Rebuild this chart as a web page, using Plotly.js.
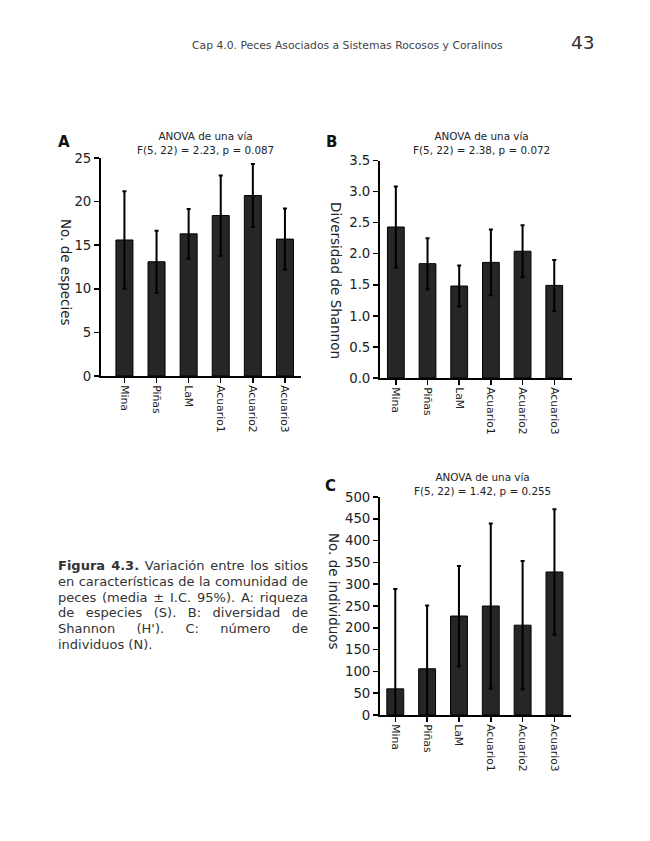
<!DOCTYPE html>
<html>
<head>
<meta charset="utf-8">
<script src="https://cdn.plot.ly/plotly-3.0.1.min.js"></script>
<style>
  html, body { margin: 0; padding: 0; background: #fff; }
  #page { position: relative; width: 650px; height: 841px; }
  #chart { position: absolute; left: 0; top: 0; width: 650px; height: 841px; }
  #caption {
    position: absolute; left: 58px; top: 558px; width: 250px;
    font-family: "DejaVu Sans", Verdana, sans-serif; font-size: 13px;
    color: #333; line-height: 15.8px;
  }
  #caption div { white-space: nowrap; text-align: justify; text-align-last: justify; }
  #caption div.last { text-align: left; text-align-last: left; }
</style>
</head>
<body>
<div id="page">
  <div id="chart"></div>
  <div id="caption">
    <div><b>Figura 4.3.</b> Variación entre los sitios</div>
    <div>en características de la comunidad de</div>
    <div>peces (media ± I.C. 95%). A: riqueza</div>
    <div>de especies (S). B: diversidad de</div>
    <div>Shannon (H'). C: número de</div>
    <div class="last">individuos (N).</div>
  </div>
</div>
<script>
// Sites sampled
const sites = ['Mina', 'Piñas', 'LaM', 'Acuario1', 'Acuario2', 'Acuario3'];

// A: species richness (mean and 95% CI half-width)
const riqueza   = [15.6, 13.1, 16.3, 18.4, 20.7, 15.7];
const riquezaIC = [5.6, 3.55, 2.85, 4.6, 3.6, 3.5];

// B: Shannon diversity
const shannon   = [2.43, 1.84, 1.48, 1.86, 2.04, 1.49];
const shannonIC = [0.65, 0.41, 0.33, 0.53, 0.42, 0.41];

// C: number of individuals
const individuos   = [60, 106, 227, 250, 206, 328];
const individuosIC = [229, 145, 115, 189, 147, 144];

// ANOVA results shown above each panel
const anova = [
  'F(5, 22) = 2.23, p = 0.087',
  'F(5, 22) = 2.38, p = 0.072',
  'F(5, 22) = 1.42, p = 0.255'
];
const yTitles = ['No. de especies', 'Diversidad de Shannon', 'No. de individuos'];

const W = 650, H = 841;
const fx = x => x / W;
const fy = y => 1 - y / H;
const FONT = '"DejaVu Sans", Verdana, sans-serif';

function barTrace(y, ic, n) {
  const s = n === 1 ? '' : String(n);
  return {
    type: 'bar', x: sites, y: y, width: 0.53,
    xaxis: 'x' + s, yaxis: 'y' + s,
    marker: { color: '#262626', line: { color: '#000', width: 1 } },
    error_y: { type: 'data', array: ic, visible: true, color: '#000', thickness: 2, width: 2 },
    hoverinfo: 'skip', showlegend: false
  };
}

function xAxis(x0, x1, r, anchor) {
  return {
    domain: [fx(x0), fx(x1)], anchor: anchor, range: r,
    showline: true, linecolor: '#000', linewidth: 2,
    ticks: 'outside', ticklen: 5, tickwidth: 1.5, tickcolor: '#000',
    tickangle: 90, tickfont: { family: FONT, size: 10.8, color: '#222' },
    showgrid: false, zeroline: false, fixedrange: true
  };
}

function yAxis(y0, y1, r, dtick, fmt, anchor) {
  return {
    domain: [fy(y1), fy(y0)], anchor: anchor, range: r,
    showline: true, linecolor: '#000', linewidth: 2,
    ticks: 'outside', ticklen: 5, tickwidth: 1.5, tickcolor: '#000',
    dtick: dtick, tick0: 0, tickformat: fmt,
    tickfont: { family: FONT, size: 13.3, color: '#222' },
    showgrid: false, zeroline: false, fixedrange: true
  };
}

const data = [
  barTrace(riqueza, riquezaIC, 1),
  barTrace(shannon, shannonIC, 2),
  barTrace(individuos, individuosIC, 3)
];

function txt(x, y, text, size, opts) {
  return Object.assign({
    xref: 'paper', yref: 'paper', x: fx(x), y: fy(y), text: text,
    showarrow: false, xanchor: 'center', yanchor: 'middle',
    font: { family: FONT, size: size, color: '#222' }
  }, opts || {});
}

// two-line ANOVA header above a panel
const anovaHead = (x, y, stat) => txt(x, y, 'ANOVA de una vía<br>' + stat, 10.4);

const annotations = [
  // running header
  txt(347.5, 45, 'Cap 4.0. Peces Asociados a Sistemas Rocosos y Coralinos', 10.8, { font: { family: FONT, size: 10.8, color: '#444' } }),
  txt(583, 43, '43', 18.5, { font: { family: FONT, size: 18.5, color: '#333' } }),
  // panel letters
  txt(64, 142, '<b>A</b>', 15, { font: { family: FONT, size: 15, color: '#111' } }),
  txt(331, 142, '<b>B</b>', 15, { font: { family: FONT, size: 15, color: '#111' } }),
  txt(330, 486, '<b>C</b>', 15, { font: { family: FONT, size: 15, color: '#111' } }),
  // ANOVA headers
  anovaHead(205.5, 143, anova[0]),
  anovaHead(481, 143, anova[1]),
  anovaHead(482.5, 484, anova[2]),
  // y-axis titles, reading top to bottom
  txt(66, 272, yTitles[0], 13.5, { textangle: 90 }),
  txt(336, 280, yTitles[1], 13.5, { textangle: 90 }),
  txt(334, 591, yTitles[2], 13.5, { textangle: 90 })
];

const layout = {
  width: W, height: H,
  margin: { l: 0, r: 0, t: 0, b: 0 },
  paper_bgcolor: '#fff', plot_bgcolor: 'rgba(0,0,0,0)',
  bargap: 0.47,
  xaxis:  xAxis(101, 301, [-0.73, 5.5], 'y'),
  yaxis:  yAxis(158, 376, [0, 25], 5, 'd', 'x'),
  xaxis2: xAxis(380, 572, [-0.5, 5.56], 'y2'),
  yaxis2: yAxis(160.5, 378, [0, 3.5], 0.5, '.1f', 'x2'),
  xaxis3: xAxis(380, 571, [-0.48, 5.52], 'y3'),
  yaxis3: yAxis(497, 715, [0, 500], 50, 'd', 'x3'),
  annotations: annotations
};

Plotly.newPlot('chart', data, layout, { displayModeBar: false, staticPlot: true });
</script>
</body>
</html>
